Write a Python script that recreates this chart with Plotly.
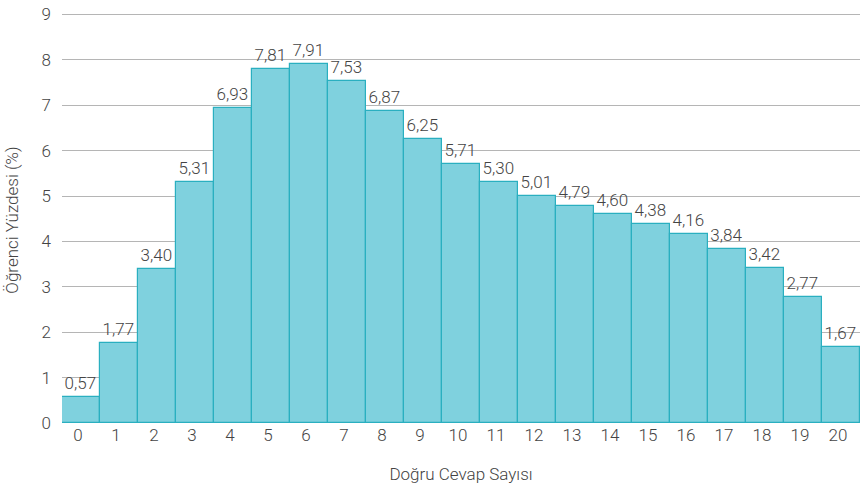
import plotly.graph_objects as go

categories = list(range(21))
values = [0.57, 1.77, 3.40, 5.31, 6.93, 7.81, 7.91, 7.53, 6.87, 6.25, 5.71,
          5.30, 5.01, 4.79, 4.60, 4.38, 4.16, 3.84, 3.42, 2.77, 1.67]
labels = [f"{v:.2f}".replace(".", ",") for v in values]

FONT = "Roboto"
TXT = "#444444"
SZ = 17

fig = go.Figure(go.Bar(
    x=categories, y=values, text=labels, textposition="outside",
    cliponaxis=False,
    textfont=dict(family=FONT, size=SZ, color=TXT, weight=300),
    marker=dict(color="#7fd1de", line=dict(color="#2aafc0", width=1.2)),
    width=1.0,
))

fig.update_layout(
    width=860, height=488,
    margin=dict(l=62, r=0, t=10, b=65),
    paper_bgcolor="white", plot_bgcolor="white",
    showlegend=False, bargap=0,
    font=dict(family=FONT, size=SZ, color=TXT, weight=300),
    uniformtext=dict(mode=False),
)
fig.add_annotation(
    text="Öğrenci Yüzdesi (%)", textangle=-90, xref="paper", yref="paper",
    x=(12 - 62) / 798, y=0.49, showarrow=False, xanchor="center", yanchor="middle",
    font=dict(family=FONT, size=SZ, color=TXT, weight=300),
)
fig.update_xaxes(
    range=[-0.5, 20.5], tickmode="array", tickvals=categories,
    ticktext=[str(c) for c in categories], showgrid=False, zeroline=False,
    showline=False, ticks="", ticklen=0, ticklabelshift=-3,
    tickfont=dict(family=FONT, size=SZ, color=TXT, weight=300),
    title=dict(text="Doğru Cevap Sayısı", standoff=24,
               font=dict(family=FONT, size=SZ, color=TXT, weight=300)),
)
fig.update_yaxes(
    range=[0, 9.1], tickmode="array", tickvals=list(range(10)),
    showgrid=True, gridcolor="#b5b5b5", gridwidth=1,
    zeroline=False, showline=False, ticks="", ticklen=0,
    tickfont=dict(family=FONT, size=SZ, color=TXT, weight=300),
    ticklabelstandoff=10,
)

fig.write_html("out.html", config={"displayModeBar": False},
               post_script="document.body.style.margin='0';document.body.style.overflow='hidden';")
